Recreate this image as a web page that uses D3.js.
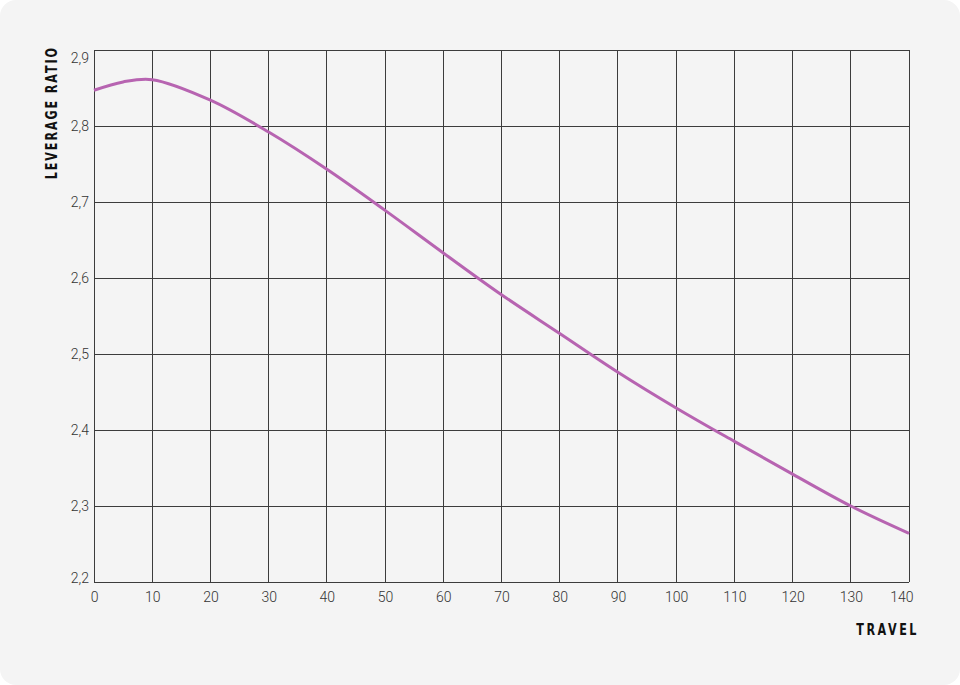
<!DOCTYPE html>
<html>
<head>
<meta charset="utf-8">
<script src="https://cdn.jsdelivr.net/npm/d3@7"></script>
<style>
  html, body { margin: 0; padding: 0; background: #ffffff; }
  svg { display: block; }
</style>
</head>
<body>
<script>
// travel (mm) and leverage ratio
var travel = [0, 5, 10, 20, 30, 40, 50, 60, 70, 80, 90, 100, 110, 120, 130, 140];
var leverage = [2.847, 2.858, 2.861, 2.834, 2.792, 2.743, 2.689, 2.633, 2.578, 2.527, 2.476, 2.429, 2.385, 2.342, 2.300, 2.264];
var xTicks = [0, 10, 20, 30, 40, 50, 60, 70, 80, 90, 100, 110, 120, 130, 140];
var yTicks = [2.2, 2.3, 2.4, 2.5, 2.6, 2.7, 2.8, 2.9];

var width = 960, height = 685;
var margin = {top: 50, right: 51, bottom: 103, left: 94};

var svg = d3.select("body").append("svg")
  .attr("width", width)
  .attr("height", height);

// card background
svg.append("rect")
  .attr("width", width).attr("height", height)
  .attr("rx", 16).attr("ry", 16)
  .attr("fill", "#f4f4f4");

var x = d3.scaleLinear().domain([0, 140]).range([margin.left, width - margin.right]);
var y = d3.scaleLinear().domain([2.2, 2.9]).range([height - margin.bottom, margin.top]);

var fmt = function(d) { return d3.format(".1f")(d).replace(".", ","); };
var tickFont = "Roboto, 'DejaVu Sans', sans-serif";
var titleFont = "'DejaVu Sans', sans-serif";

// grid
var grid = svg.append("g").attr("stroke", "#3c3c3c").attr("stroke-width", 1).attr("shape-rendering", "crispEdges");
grid.selectAll("line.v").data(xTicks).enter().append("line")
  .attr("class", "v")
  .attr("x1", function(d) { return x(d); }).attr("x2", function(d) { return x(d); })
  .attr("y1", y(2.9)).attr("y2", y(2.2));
grid.selectAll("line.h").data(yTicks).enter().append("line")
  .attr("class", "h")
  .attr("y1", function(d) { return y(d); }).attr("y2", function(d) { return y(d); })
  .attr("x1", x(0)).attr("x2", x(140));

// axes (labels only)
var xAxis = svg.append("g")
  .attr("transform", "translate(0," + y(2.2) + ")")
  .call(d3.axisBottom(x).tickValues(xTicks).tickSize(0).tickPadding(10).tickFormat(d3.format("d")));
var yAxis = svg.append("g")
  .attr("transform", "translate(" + x(0) + ",0)")
  .call(d3.axisLeft(y).tickValues(yTicks).tickSize(0).tickPadding(5).tickFormat(fmt));

[xAxis, yAxis].forEach(function(a) {
  a.select(".domain").remove();
  a.selectAll("text")
    .attr("font-family", tickFont)
    .attr("font-weight", 300)
    .attr("font-size", "14px")
    .attr("fill", "#333");
});
// end labels are kept inside the frame
yAxis.selectAll(".tick text")
  .attr("dy", function(d) { return d === 2.9 ? "0.92em" : d === 2.2 ? "0.02em" : "0.32em"; });
xAxis.selectAll(".tick text")
  .filter(function(d) { return d === 140; })
  .attr("text-anchor", "end")
  .attr("dx", 4);

// curve
var line = d3.line()
  .x(function(d, i) { return x(travel[i]); })
  .y(function(d) { return y(d); })
  .curve(d3.curveCatmullRom.alpha(0.5));

svg.append("path")
  .datum(leverage)
  .attr("d", line)
  .attr("fill", "none")
  .attr("stroke", "#b764b1")
  .attr("stroke-width", 3)
  .attr("stroke-linecap", "butt");

// axis titles (condensed, wide tracking)
svg.append("text")
  .attr("transform", "translate(919,635) scale(0.7,1)")
  .attr("text-anchor", "end")
  .attr("font-family", titleFont)
  .attr("font-weight", "bold")
  .attr("font-size", "16px")
  .attr("letter-spacing", "3.6px")
  .attr("fill", "#111")
  .text("TRAVEL");

svg.append("text")
  .attr("transform", "translate(57,46) rotate(-90) scale(0.7,1)")
  .attr("text-anchor", "end")
  .attr("font-family", titleFont)
  .attr("font-weight", "bold")
  .attr("font-size", "16px")
  .attr("letter-spacing", "2.7px")
  .attr("fill", "#111")
  .text("LEVERAGE RATIO");
</script>
</body>
</html>
